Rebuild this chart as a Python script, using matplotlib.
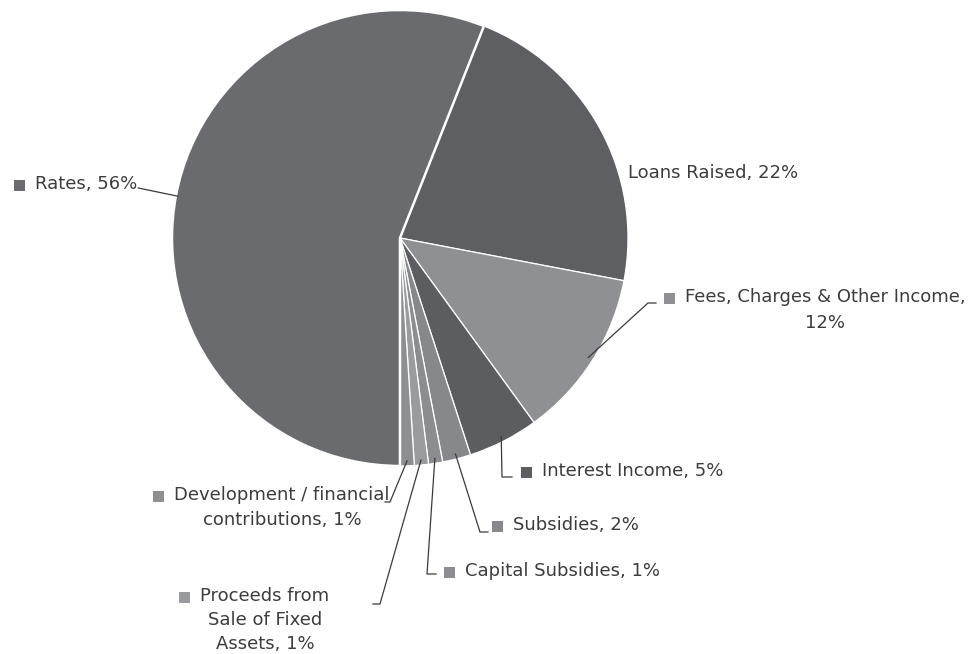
import textwrap
import numpy as np
import matplotlib
matplotlib.use("Agg")
import matplotlib.pyplot as plt
from matplotlib.patches import Rectangle

# Revenue sources (share of total, %)
sources = [
    "Loans Raised",
    "Fees, Charges & Other Income",
    "Interest Income",
    "Subsidies",
    "Capital Subsidies",
    "Proceeds from Sale of Fixed Assets",
    "Development / financial contributions",
    "Rates",
]
shares = [22, 12, 5, 2, 1, 1, 1, 56]
slice_colors = ["#5e5f63", "#8f9094", "#5c5d61", "#87888c",
                "#8c8d91", "#9a9b9f", "#8e8f93", "#6a6b6f"]

W, H = 974, 654
fig = plt.figure(figsize=(W / 100, H / 100), dpi=100)
ax = fig.add_axes([0, 0, 1, 1])


def px(x, y):
    """Pixel position measured from the top-left corner -> data coords."""
    return x, H - y


cx, cy = px(400, 238)
R = 228
start = 68.4  # first wedge begins just right of 12 o'clock

explode = [0.014 if s == "Rates" else 0 for s in sources]
wedges, _ = ax.pie(shares, colors=slice_colors, startangle=start,
                   counterclock=False, center=(cx, cy), radius=R,
                   explode=explode,
                   wedgeprops=dict(edgecolor="white", linewidth=0.9))
# the pulled-out Rates wedge carries a heavier white outline
wedges[sources.index("Rates")].set_linewidth(1.8)
ax.set_xlim(0, W)
ax.set_ylim(0, H)
ax.set_aspect("equal")
ax.axis("off")

TXT = "#3c3c3c"
FS = 13

# label layout: wrap width, anchor x, first-line y, alignment, line gap, leader elbow/end
layout = {
    "Loans Raised": dict(wrap=40, x=628, y=173, ha="left", marker=False, path=None),
    "Fees, Charges & Other Income": dict(wrap=29, x=825, y=297, ha="center", gap=26,
                                         path=[(648, 303), (656, 303)]),
    "Interest Income": dict(wrap=40, x=542, y=471, ha="left",
                            path=[(502, 477), (512, 477)]),
    "Subsidies": dict(wrap=40, x=513, y=525, ha="left",
                      path=[(480, 532), (488, 532)]),
    "Capital Subsidies": dict(wrap=40, x=465, y=571, ha="left",
                              path=[(427, 574), (436, 574)]),
    "Proceeds from Sale of Fixed Assets": dict(wrap=13, x=265, y=596, ha="center", gap=24,
                                               path=[(380, 604), (373, 604)]),
    "Development / financial contributions": dict(wrap=23, x=282, y=495, ha="center", gap=25,
                                                  path=[(390, 502), (385, 502)]),
    "Rates": dict(wrap=40, x=35, y=184, ha="left", path="text"),
}

first_lines = {}
for name, val in zip(sources, shares):
    L = layout[name]
    lines = textwrap.wrap(f"{name}, {val}%", L["wrap"])
    objs = []
    for i, line in enumerate(lines):
        t = ax.text(*px(L["x"], L["y"] + i * L.get("gap", 25)), line, ha=L["ha"],
                    va="center", fontsize=FS, color=TXT, family="DejaVu Sans")
        objs.append(t)
    first_lines[name] = objs[0]

fig.canvas.draw()
renderer = fig.canvas.get_renderer()

# cumulative angles of the wedges
frac = np.array(shares, float) / sum(shares)
edges = np.concatenate([[0], np.cumsum(frac)])

for k, (name, col) in enumerate(zip(sources, slice_colors)):
    L = layout[name]
    bb = first_lines[name].get_window_extent(renderer)
    ymid = (bb.y0 + bb.y1) / 2
    if L.get("marker", True):
        s = 11
        ax.add_patch(Rectangle((bb.x0 - 10 - s, ymid - s / 2 - 1), s, s,
                               facecolor=col, edgecolor="none", zorder=3))
    if L["path"] is None:
        continue
    mid = start - 360 * (edges[k] + edges[k + 1]) / 2
    th = np.deg2rad(mid)
    ox = 3 if name == "Rates" else 0
    p0 = (cx + (R - 5) * np.cos(th) - ox, cy + (R - 5) * np.sin(th))
    if L["path"] == "text":
        pts = [p0, (bb.x1 + 1, ymid - 4)]
    else:
        pts = [p0] + [px(x, y) for x, y in L["path"]]
    xs, ys = zip(*pts)
    ax.plot(xs, ys, color="#3a3a3a", lw=0.9, zorder=4, solid_joinstyle="miter")

fig.savefig("out.png", dpi=100, facecolor="white")
